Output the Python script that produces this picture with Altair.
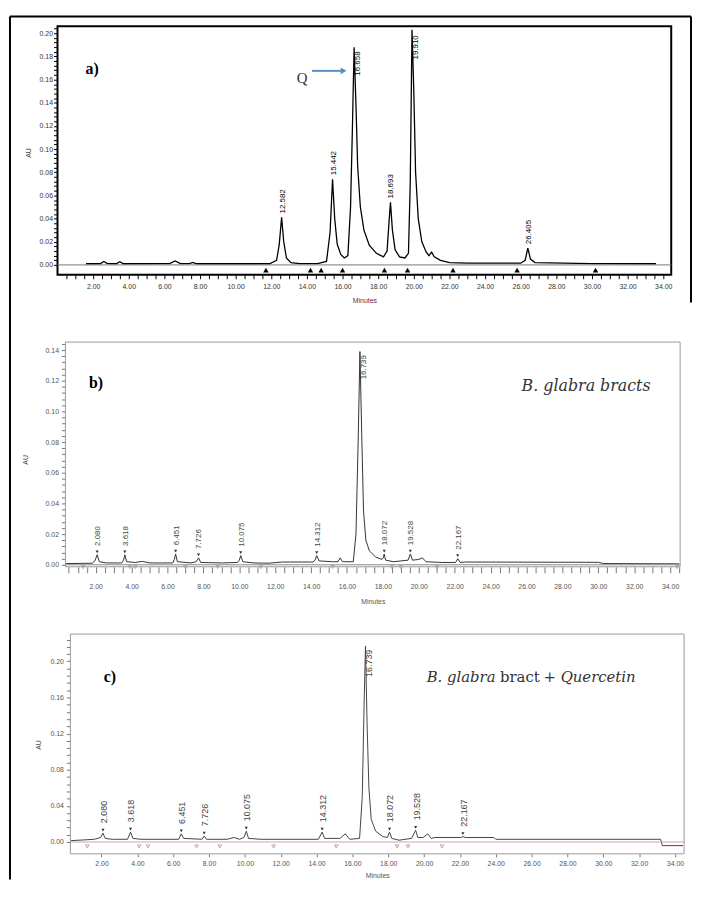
import altair as alt
import pandas as pd

# ---------------- Panel a (standard) ----------------
a_time = [1.6, 2.4, 2.6, 2.8, 3.3, 3.5, 3.7, 6.3, 6.6, 6.9, 7.4, 7.6, 7.8, 11.9, 12.3, 12.45, 12.58, 12.7, 12.85,
          13.1, 13.6, 14.6, 15.1, 15.3, 15.44, 15.56, 15.7, 15.9, 16.1, 16.3, 16.45, 16.55, 16.65, 16.75, 16.85,
          17.0, 17.2, 17.5, 17.9, 18.3, 18.5, 18.6, 18.69, 18.8, 18.95, 19.2, 19.5, 19.7, 19.8, 19.9, 20.0, 20.1,
          20.25, 20.45, 20.7, 20.85, 21.0, 21.15, 21.5, 22.0, 23.0, 26.0, 26.25, 26.4, 26.55, 26.8, 30.0, 33.6]
a_au = [0.001, 0.001, 0.003, 0.0012, 0.001, 0.0028, 0.001, 0.0012, 0.0035, 0.0012, 0.0012, 0.0022, 0.001, 0.001,
        0.004, 0.018, 0.041, 0.02, 0.006, 0.002, 0.0012, 0.0012, 0.003, 0.028, 0.074, 0.04, 0.018, 0.009, 0.006,
        0.008, 0.05, 0.115, 0.188, 0.14, 0.085, 0.05, 0.03, 0.017, 0.01, 0.007, 0.012, 0.035, 0.054, 0.03, 0.013,
        0.007, 0.006, 0.01, 0.07, 0.203, 0.15, 0.08, 0.04, 0.02, 0.011, 0.008, 0.011, 0.007, 0.004, 0.002, 0.0015,
        0.0015, 0.004, 0.0145, 0.005, 0.002, 0.0012, 0.001]
a_peak_t = [12.58, 15.44, 18.69, 26.40]
a_peak_y = [0.041, 0.074, 0.054, 0.0145]
a_peak_lab = ["12.582", "15.442", "18.693", "26.405"]
a_top_t = [16.65, 19.90]
a_top_y = [0.186, 0.200]
a_top_lab = ["16.658", "19.910"]
a_mark_t = [11.7, 14.2, 14.8, 16.0, 18.35, 19.65, 22.2, 25.8, 30.2]

# ---------------- Panel b (B. glabra bracts) ----------------
b_time = [0.35, 1.8, 1.95, 2.08, 2.2, 2.6, 3.45, 3.55, 3.62, 3.72, 4.2, 4.6, 5.0, 6.3, 6.38, 6.45, 6.55, 7.3, 7.6,
          7.73, 7.85, 9.0, 9.9, 10.0, 10.08, 10.2, 10.8, 11.6, 12.4, 14.1, 14.22, 14.31, 14.45, 15.2, 15.5, 15.62,
          15.75, 16.35, 16.5, 16.62, 16.72, 16.82, 16.92, 17.05, 17.25, 17.6, 17.95, 18.02, 18.07, 18.15, 18.6,
          19.4, 19.53, 19.65, 20.0, 20.2, 20.4, 21.3, 22.05, 22.17, 22.3, 22.6, 30.0, 30.3, 34.5]
b_au = [0.0008, 0.001, 0.0025, 0.0065, 0.002, 0.0012, 0.0012, 0.003, 0.0065, 0.002, 0.0015, 0.0022, 0.0012,
        0.0012, 0.0035, 0.007, 0.002, 0.0012, 0.002, 0.0045, 0.0015, 0.0012, 0.0015, 0.003, 0.006, 0.002, 0.0012,
        0.001, 0.0018, 0.0018, 0.003, 0.006, 0.0025, 0.002, 0.002, 0.0045, 0.002, 0.002, 0.02, 0.08, 0.139, 0.085,
        0.035, 0.016, 0.009, 0.005, 0.0035, 0.0045, 0.007, 0.003, 0.002, 0.003, 0.007, 0.003, 0.0035, 0.0045,
        0.002, 0.0015, 0.0015, 0.004, 0.0015, 0.0018, 0.0016, 0.0008, 0.0006]
b_peak_t = [2.08, 3.618, 6.451, 7.726, 10.075, 14.312, 18.072, 19.528, 22.167]
b_peak_y = [0.0065, 0.0065, 0.007, 0.0045, 0.006, 0.006, 0.007, 0.007, 0.004]
b_peak_lab = ["2.080", "3.618", "6.451", "7.726", "10.075", "14.312", "18.072", "19.528", "22.167"]
b_top_t = [16.72]
b_top_y = [0.138]
b_top_lab = ["16.739"]
b_mark_t = [1.3, 3.9, 4.2, 7.0, 8.8, 11.2, 15.2, 18.5, 19.0, 21.0, 34.4]

# ---------------- Panel c (B. glabra bract + Quercetin) ----------------
c_time = [0.3, 1.6, 1.95, 2.08, 2.2, 2.6, 3.45, 3.62, 3.75, 4.2, 6.3, 6.45, 6.58, 7.6, 7.73, 7.86, 9.0, 9.4, 9.7,
          9.95, 10.08, 10.2, 10.9, 14.1, 14.31, 14.45, 15.3, 15.6, 15.85, 16.4, 16.55, 16.65, 16.73, 16.82, 16.92,
          17.05, 17.3, 17.7, 17.95, 18.07, 18.2, 18.6, 19.3, 19.53, 19.65, 19.95, 20.2, 20.4, 20.6, 22.05, 22.17,
          22.3, 23.9, 24.0, 33.2, 33.3, 34.45]
c_au = [0.0015, 0.003, 0.005, 0.0099, 0.004, 0.003, 0.003, 0.011, 0.004, 0.003, 0.003, 0.009, 0.004, 0.003,
        0.0066, 0.003, 0.003, 0.005, 0.003, 0.005, 0.012, 0.004, 0.003, 0.003, 0.011, 0.004, 0.004, 0.009, 0.003,
        0.004, 0.05, 0.15, 0.217, 0.13, 0.06, 0.025, 0.012, 0.006, 0.005, 0.011, 0.004, 0.002, 0.004, 0.013,
        0.005, 0.005, 0.009, 0.004, 0.005, 0.005, 0.006, 0.005, 0.005, 0.003, 0.003, -0.004, -0.004]
c_peak_t = [2.08, 3.618, 6.451, 7.726, 10.075, 14.312, 18.072, 19.528, 22.167]
c_peak_y = [0.0099, 0.011, 0.009, 0.0066, 0.012, 0.011, 0.011, 0.013, 0.006]
c_peak_lab = ["2.080", "3.618", "6.451", "7.726", "10.075", "14.312", "18.072", "19.528", "22.167"]
c_top_t = [16.73]
c_top_y = [0.215]
c_top_lab = ["16.739"]
c_mark_t = [1.2, 4.1, 4.6, 7.3, 8.6, 11.6, 15.1, 18.5, 19.1, 21.0]

panel_tags = ["a)", "b)", "c)"]
sample_texts = ["B. glabra bracts", "B. glabra", "bract", "+ Quercetin"]
q_text = "Q"
x_title = "Minutes"
y_title = "AU"

SANS = "Liberation Sans"
SERIF = "DejaVu Serif"


def one(v):
    return pd.DataFrame({"txt": [v]})


def panel(time, au, pk_t, pk_y, pk_lab, top_t, top_y, top_lab, mk_t, mk_y,
          xdom, ydom, fx0, w, h, xticks, xlab_expr, yticks, ylab_expr, style):
    xs = alt.Scale(domain=xdom, nice=False, zero=False)
    ys = alt.Scale(domain=ydom, nice=False, zero=False)
    xaxis = alt.Axis(values=xticks, labelExpr=xlab_expr, tickSize=style["xtick"], tickColor=style["axis"],
                     domain=False, grid=False, labelFont=SANS, labelFontSize=7, labelColor=style["lab"],
                     labelPadding=style["xlabpad"], labelOverlap=False, labelBound=False, labelFlush=False,
                     title=x_title, titleFont=SANS, titleFontSize=7, titleFontWeight="normal",
                     titleColor=style["xtitle"], titlePadding=style["xtitlepad"], titleX=(fx0 + w) / 2)
    yaxis = alt.Axis(values=yticks, labelExpr=ylab_expr, tickSize=4, tickColor=style["axis"], domain=False,
                     grid=False, labelFont=SANS, labelFontSize=7, labelColor=style["lab"],
                     labelPadding=style["ylabpad"], labelOverlap=False, labelFlush=False, title=None,
                     offset=-fx0)

    def X(f):
        return alt.X(f, scale=xs, axis=xaxis, title=x_title)

    def Y(f):
        return alt.Y(f, scale=ys, axis=yaxis, title=None)

    df = pd.DataFrame({"t": time, "y": au})
    trace = alt.Chart(df).mark_line(color=style["trace"], strokeWidth=style["tw"], clip=True).encode(
        x=X("t:Q"), y=Y("y:Q"))

    zero_line = alt.Chart(one(0)).transform_calculate(y="0").mark_rule(
        color=style["zero"], strokeWidth=1).encode(
        y=Y("y:Q"), x=alt.value(fx0), x2=alt.value(w))

    pk = pd.DataFrame({"t": pk_t, "y": pk_y, "lab": pk_lab})
    pk_text = alt.Chart(pk).mark_text(angle=270, align="left", baseline="middle", font=SANS,
                                      fontSize=style["pfs"], color=style["plab"], yOffset=-style["pgap"],
                                      xOffset=1).encode(
        x=X("t:Q"), y=Y("y:Q"), text="lab:N")
    top = pd.DataFrame({"t": top_t, "y": top_y, "lab": top_lab})
    top_text = alt.Chart(top).mark_text(angle=270, align="right", baseline="middle", font=SANS,
                                        fontSize=style["pfs"], color=style["plab"], xOffset=4, yOffset=2).encode(
        x=X("t:Q"), y=Y("y:Q"), text="lab:N")
    mk = pd.DataFrame({"t": mk_t, "y": [mk_y] * len(mk_t)})
    marks = alt.Chart(mk).mark_point(shape=style["mshape"], filled=style["mfill"], size=style["msize"],
                                     color=style["mcolor"], strokeWidth=0.8, opacity=1).encode(
        x=X("t:Q"), y=Y("y:Q"))
    layers = [trace, zero_line, pk_text, top_text, marks]
    if style["arrows"]:
        arrows = alt.Chart(pk).mark_point(shape="triangle-down", filled=True, size=10, color="#333",
                                          opacity=1, yOffset=-3).encode(x=X("t:Q"), y=Y("y:Q"))
        layers.append(arrows)
    if fx0 > 0:
        frame = alt.Chart(one(0)).mark_rect(fillOpacity=0, stroke=style["frame"], strokeWidth=1).encode(
            x=alt.value(fx0), x2=alt.value(w), y=alt.value(0), y2=alt.value(h))
        layers.append(frame)
    return layers


def label_text(txt, x, y, size, weight="normal", style="normal", font=SANS, color="black", angle=0, align="center"):
    return alt.Chart(one(txt)).mark_text(fontSize=size, fontWeight=weight, fontStyle=style, font=font,
                                         color=color, angle=angle, align=align, baseline="middle").encode(
        text="txt:N", x=alt.value(x), y=alt.value(y))


def black_rule(x, y, x2=None, y2=None):
    enc = dict(x=alt.value(x), y=alt.value(y))
    if x2 is not None:
        enc["x2"] = alt.value(x2)
    if y2 is not None:
        enc["y2"] = alt.value(y2)
    return alt.Chart(one(0)).mark_rule(color="black", strokeWidth=2).encode(**enc)


x_expr = "(abs(datum.value/2 - round(datum.value/2)) < 0.01 && datum.value > 0.1) ? format(datum.value, '.2f') : ''"

# ---------- panel a ----------
A_W, A_H = 620, 251
a_xt = [i * 0.5 for i in range(1, 69)]
a_yt = [round(i * 0.004, 3) for i in range(0, 52)]
a_layers = panel(a_time, a_au, a_peak_t, a_peak_y, a_peak_lab, a_top_t, a_top_y, a_top_lab, a_mark_t, -0.0045,
                 [0, 34.45], [-0.0085, 0.206], 0, A_W, A_H, a_xt, x_expr, a_yt,
                 "abs(datum.value*50 - round(datum.value*50)) < 0.01 ? format(datum.value, '.2f') : ''",
                 dict(xtick=4, axis="black", lab="#333", xlabpad=4, xtitle="#6b2d4f", xtitlepad=7, ylabpad=1,
                      zero="#777", trace="black", tw=1.3, plab="black", mshape="triangle-up", mfill=True,
                      msize=30, mcolor="black", frame="black", pfs=8, pgap=4, arrows=False))
a_extra = [
    label_text(panel_tags[0], 35, 43, 16, weight="bold", font="Liberation Serif"),
    label_text(q_text, 247, 52, 15, font="Liberation Serif", color="#333"),
    alt.Chart(one(0)).mark_rule(color="#5b8ec4", strokeWidth=2).encode(
        x=alt.value(257), x2=alt.value(287), y=alt.value(45)),
    alt.Chart(one(0)).mark_point(shape="triangle-right", filled=True, size=45, color="#5b8ec4", opacity=1).encode(
        x=alt.value(289), y=alt.value(45)),
    label_text(y_title, -29, 128, 7, angle=270, color="#333"),
    black_rule(-48, -10, y2=862),          # outer frame, left
    black_rule(-48, -10, x2=640),          # outer frame, top
    black_rule(640, -10, y2=279),          # outer frame, right
]
chart_a = alt.layer(*a_layers, *a_extra).properties(
    width=A_W, height=A_H, view=alt.ViewBackground(stroke="black", strokeWidth=2))

# ---------- panel b ----------
B_W, B_H = 629, 227
b_xt = [i * 0.5 for i in range(1, 70)]
b_yt = [round(i * 0.004, 3) for i in range(0, 37)]
b_layers = panel(b_time, b_au, b_peak_t, b_peak_y, b_peak_lab, b_top_t, b_top_y, b_top_lab, b_mark_t, -0.0015,
                 [-0.131, 34.56], [-0.0013, 0.1452], 8, B_W, B_H, b_xt, x_expr, b_yt,
                 "abs(datum.value*50 - round(datum.value*50)) < 0.01 ? format(datum.value, '.2f') : ''",
                 dict(xtick=6, axis="#777", lab="#555", xlabpad=10, xtitle="#555", xtitlepad=8, ylabpad=3,
                      zero="#888", trace="#333", tw=1.0, plab="#444", mshape="triangle-down", mfill=False,
                      msize=12, mcolor="#999", frame="#999", pfs=8, pgap=9, arrows=True))
b_extra = [
    label_text(panel_tags[1], 39, 41, 16, weight="bold", font="Liberation Serif"),
    label_text(sample_texts[0], 534, 44, 16, style="italic", font=SERIF, color="#333"),
    label_text(y_title, -32, 119, 7, angle=270, color="#444"),
]
chart_b = alt.layer(*b_layers, *b_extra).properties(
    width=B_W, height=B_H, view=alt.ViewBackground(stroke="transparent", strokeWidth=0))

# ---------- panel c ----------
C_W, C_H = 633, 222
c_xt = [i * 2 for i in range(1, 18)]
c_yt = [round(i * 0.008, 3) for i in range(0, 29)]
c_layers = panel(c_time, c_au, c_peak_t, c_peak_y, c_peak_lab, c_top_t, c_top_y, c_top_lab, c_mark_t, -0.005,
                 [-0.458, 34.51], [-0.0131, 0.2301], 13, C_W, C_H, c_xt, "format(datum.value, '.2f')", c_yt,
                 "abs(datum.value*25 - round(datum.value*25)) < 0.01 ? format(datum.value, '.2f') : ''",
                 dict(xtick=3, axis="#777", lab="#555", xlabpad=3, xtitle="#555", xtitlepad=5, ylabpad=3,
                      zero="#d9a0a0", trace="#444", tw=1.0, plab="#444", mshape="triangle-down", mfill=False,
                      msize=14, mcolor="#999", frame="#999", pfs=9, pgap=10, arrows=True))
c_extra = [
    label_text(panel_tags[2], 53, 43, 16, weight="bold", font="Liberation Serif"),
    label_text(sample_texts[1], 373, 43, 15, style="italic", font=SERIF, color="#333", align="left"),
    label_text(sample_texts[2], 447, 43, 15, font=SERIF, color="#333", align="left"),
    label_text(sample_texts[3], 491, 43, 15, style="italic", font=SERIF, color="#333", align="left"),
    label_text(y_title, -19, 112, 7, angle=270, color="#444"),
]
chart_c = alt.layer(*c_layers, *c_extra).properties(
    width=C_W, height=C_H, view=alt.ViewBackground(stroke="transparent", strokeWidth=0))

chart = alt.vconcat(chart_a, chart_b, chart_c, spacing=68, bounds="flush").properties(
    padding={"left": 0, "top": 2, "right": 0, "bottom": 0}
).configure(background="white")

chart.save("out.html", embed_options={"renderer": "svg", "actions": False})
